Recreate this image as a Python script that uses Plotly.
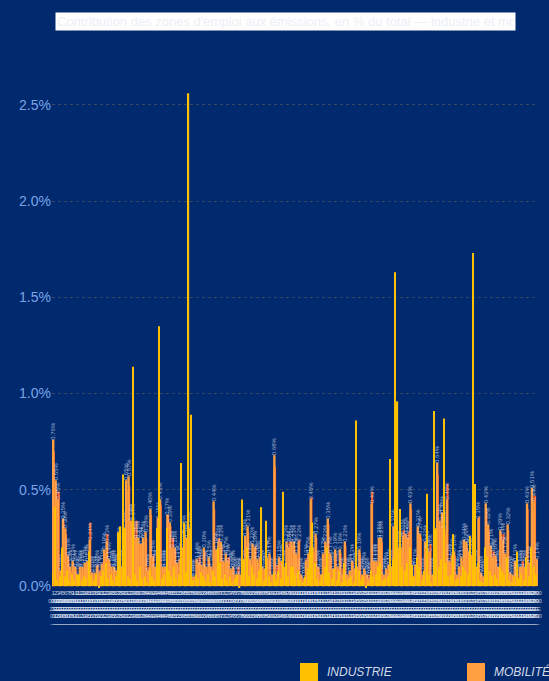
import plotly.graph_objects as go

# ---- data (values in % of total) ----
mobilite = [
    .76, .55, .45, .08, .35, .30, .16, .10, .13, .10, .06, .10, .10, .12, .13, .24, .07, .07, .10, .07, .11, .19, .23, .14, .10, .10, .08, .22, .10, .30, .55, .57, .34,
    .34, .25, .25, .22, .25, .28, .08, .40, .15, .10, .35, .45, .10, .10, .37, .33, .20, .20, .12, .14, .20, .28, .25, .30, .05, .05, .14, .12, .11, .20, .10, .15, .10,
    .44, .19, .23, .23, .13, .17, .13, .09, .10, .06, .06, .06, .10, .26, .31, .14, .22, .20, .14, .15, .10, .09, .15, .17, .06, .68, .06, .15, .13, .10, .23, .20, .23,
    .23, .17, .23, .06, .04, .13, .17, .45, .20, .27, .10, .06, .17, .23, .35, .17, .09, .19, .10, .19, .06, .23, .06, .08, .13, .09, .10, .19, .06, .09, .06, .04,
    .43, .13, .13, .25, .25, .06, .09, .11, .10, .31, .20, .20, .20, .26, .27, .25, .43, .05, .11, .31, .27, .06, .23, .20, .18, .06, .20, .64, .34, .38, .30, .45, .13,
    .16, .18, .06, .10, .15, .24, .23, .18, .16, .20, .10, .35, .07, .05, .43, .32, .21, .15, .16, .10, .29, .24, .17, .32, .07, .06, .13, .05, .10, .10, .10, .43, .12, .51, .44, .14,
]
autres = [
    .70, .50, .49, .06, .33, .27, .14, .08, .12, .09, .05, .08, .09, .11, .12, .33, .05, .06, .11, .08, .12, .17, .27, .12, .08, .09, .07, .20, .09, .27, .50, .52, .31,
    .31, .34, .22, .20, .23, .25, .10, .37, .16, .08, .36, .42, .09, .08, .37, .31, .25, .18, .10, .12, .18, .25, .22, .27, .04, .04, .12, .15, .09, .18, .09, .13, .09,
    .40, .17, .25, .21, .12, .15, .15, .08, .09, .05, .10, .05, .09, .24, .28, .12, .20, .21, .12, .13, .09, .08, .13, .15, .05, .62, .11, .13, .12, .09, .21, .23, .21,
    .21, .15, .24, .05, .03, .14, .15, .46, .18, .25, .09, .05, .15, .21, .32, .15, .08, .17, .09, .17, .09, .21, .05, .07, .12, .08, .09, .17, .05, .08, .06, .06,
    .49, .12, .12, .23, .23, .05, .08, .10, .09, .28, .18, .18, .18, .29, .25, .28, .40, .04, .10, .28, .25, .05, .21, .18, .22, .05, .18, .58, .31, .35, .27, .53, .12,
    .14, .16, .05, .09, .13, .22, .21, .16, .14, .18, .09, .36, .06, .04, .40, .29, .19, .18, .14, .09, .27, .27, .15, .29, .06, .05, .12, .04, .09, .13, .09, .40, .11, .47, .47, .12,
]
industrie = [
    .07, .41, .03, .05, .20, .05, .08, .03, .06, .03, .06, .06, .03, .05, .04, .18, .05, .03, .06, -.01, .05, .08, .12, .04, .06, .03, .05, .28, .31, .58, .30, .05, .04,
    1.14, .06, .03, .10, .04, .05, .02, .09, .05, .03, .30, 1.35, .04, .06, .30, .08, .05, .10, .04, .06, .64, .33, .07, 2.56, .89, .03, .06, .04, .07, .05, .03, .06, .02,
    .08, .05, .20, .12, .04, .06, .03, .05, .02, .04, .06, -.01, .45, .14, .20, .05, .10, .06, .04, .08, .41, .03, .34, .05, .02, .07, .03, .08, .04, .49, .12, .05, .10,
    .10, .06, .08, .03, .02, .05, .09, .20, .33, .12, .04, .03, .06, .10, .20, .07, .04, .09, .03, .08, .02, .12, .03, .04, .05, .02, .86, .08, .03, .05, -.01, .02,
    .08, .05, .06, .10, .12, .03, .04, .05, .66, .14, 1.63, .96, .40, .10, .08, .12, .20, .11, .05, .15, .10, .03, .08, .48, .06, .02, .91, .30, .10, .14, .87, .12, .05,
    .06, .27, .03, .04, .05, .10, .08, .06, .26, 1.73, .53, .12, .03, .02, .20, .15, .08, .05, .06, .04, .10, .08, .06, .15, .03, .02, .05, .18, .04, .06, .03, .15, .05, .20, .10, .06,
]
categories = [f"ZE{n:03d}" for n in range(1, len(mobilite) + 1)]
tick_labels = [f"{n}<br>{n:03d}<br>ZE<br>{n:02d}<br>—" for n in range(1, len(mobilite) + 1)]
y_ticks = [0, 0.5, 1.0, 1.5, 2.0, 2.5]
y_tick_text = ["0.0%", "0.5%", "1.0%", "1.5%", "2.0%", "2.5%"]

BG = "#00296e"
YELLOW = "#ffc000"
ORANGE = "#ff9f3f"
RED = "#ff5a1f"

fig = go.Figure()
fig.add_trace(go.Bar(x=categories, y=autres, name="AUTRES", marker_color=RED,
                     marker_line_width=0, width=0.9, offset=-0.2, showlegend=False))
fig.add_trace(go.Bar(x=categories, y=mobilite, name="MOBILITÉ", marker_color=ORANGE,
                     marker_line_width=0, width=1.0, offset=-0.5, showlegend=False,
                     text=[f"{v:.2f}%" for v in mobilite], textposition="outside",
                     textangle=-90, constraintext="none", cliponaxis=False,
                     textfont=dict(size=6, color="rgba(225,232,245,0.7)",
                                   family="Liberation Sans, Arial")))
fig.add_trace(go.Bar(x=categories, y=industrie, name="INDUSTRIE", marker_color=YELLOW,
                     marker_line_width=0, width=0.5, offset=-0.55, showlegend=False))

# manual legend
legend_items = [("INDUSTRIE", YELLOW, 0.5103), ("MOBILITÉ", ORANGE, 0.8539)]
for label, color, x0 in legend_items:
    fig.add_shape(type="rect", xref="paper", yref="paper", x0=x0, x1=x0 + 0.037,
                  y0=-0.1816, y1=-0.1465, fillcolor=color, line_width=0)
    fig.add_annotation(xref="paper", yref="paper", x=x0 + 0.051, y=-0.164,
                       xanchor="left", yanchor="middle", showarrow=False, text=label,
                       font=dict(size=12, color="#d4dae8", family="Liberation Sans, Arial",
                                 style="italic"))

# title block
fig.add_annotation(xref="paper", yref="paper", x=0.006, y=1.1064, xanchor="left",
                   yanchor="middle", showarrow=False, align="left",
                   text="Contribution des zones d'emploi aux émissions, en % du total — industrie et mobilité, 2019",
                   font=dict(size=13, color="#eceff5", family="Liberation Sans, Arial"),
                   bgcolor="white", width=457, height=15)

fig.update_layout(
    width=549, height=681, autosize=False,
    margin=dict(l=52, r=11, t=76, b=93),
    paper_bgcolor=BG, plot_bgcolor=BG,
    barmode="overlay",
    showlegend=False,
    font=dict(family="Liberation Sans, Arial", color="#7aa4e8"),
)
fig.update_xaxes(type="category", tickmode="array", tickvals=categories, ticktext=tick_labels,
                 tickangle=0, tickfont=dict(size=6, color="rgba(235,240,250,0.8)"),
                 showgrid=False, zeroline=False, showline=False, ticks="",
                 automargin=False, range=[-0.5, len(categories) - 0.5])
fig.update_yaxes(range=[-0.01, 2.65], tickmode="array", tickvals=y_ticks,
                 ticktext=y_tick_text,
                 tickfont=dict(size=14, color="#7aa4e8"),
                 showgrid=True, gridcolor="#3c4560", gridwidth=1, griddash="dot",
                 zeroline=False, showline=False, automargin=False)

fig.write_html(
    "out.html",
    config={"displayModeBar": False},
    post_script="document.body.style.margin='0';document.body.style.background='#00296e';",
)
